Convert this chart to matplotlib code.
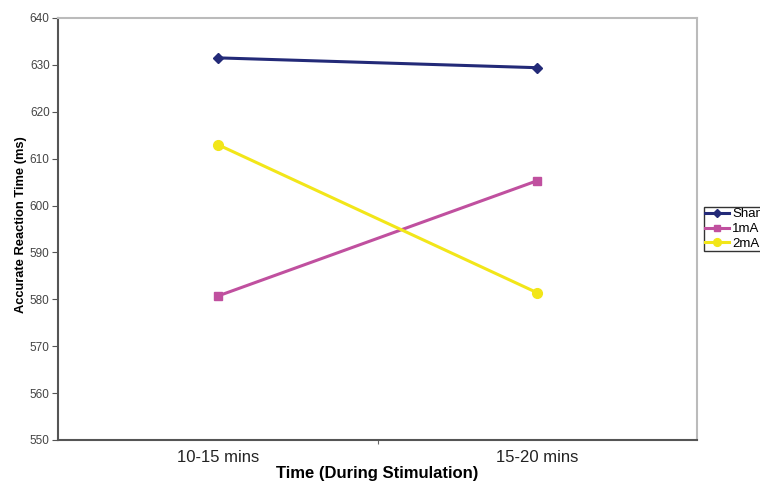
import matplotlib

matplotlib.use("Agg")
import matplotlib.pyplot as plt

plt.rcParams["font.family"] = ["Liberation Sans", "DejaVu Sans"]

periods = ["10-15 mins", "15-20 mins"]
sham = [631.5, 629.4]
one_ma = [580.7, 605.3]
two_ma = [613.0, 581.4]

series = [
    ("Sham", sham, "#232a78", "D", 5),
    ("1mA", one_ma, "#c0509f", "s", 6),
    ("2mA", two_ma, "#f2e619", "o", 7),
]

fig = plt.figure(figsize=(7.6, 4.82), dpi=100)
ax = fig.add_axes([58 / 760, 1 - 440 / 482, (697 - 58) / 760, (440 - 18) / 482])

x = list(range(len(periods)))
for name, vals, color, marker, ms in series:
    ax.plot(x, vals, color=color, marker=marker, markersize=ms, linewidth=2.2, label=name)

ax.set_xlim(-0.5, 1.5)
ax.set_ylim(550, 640)
ax.set_yticks(range(550, 641, 10))
ax.set_xticks([0.5])
ax.set_xticklabels([""])
ax.set_xticks(x, minor=True)
ax.set_xticklabels(periods, minor=True)
ax.tick_params(axis="x", which="minor", length=0, labelsize=12, pad=7, colors="#222222")
ax.tick_params(axis="x", which="major", length=3, direction="out", color="#666666")
ax.tick_params(axis="y", length=4, direction="out", labelsize=8.5, width=0.8, pad=2,
               colors="#555555", labelcolor="#444444")

for side in ["top", "right"]:
    ax.spines[side].set_color("#bbbbbb")
    ax.spines[side].set_linewidth(1.5)
for side in ["left", "bottom"]:
    ax.spines[side].set_color("#555555")
    ax.spines[side].set_linewidth(1.5)

ax.set_ylabel("Accurate Reaction Time (ms)", fontsize=9.3, fontweight="bold")
ax.yaxis.set_label_coords(-0.048, 0.51)
ax.set_xlabel("Time (During Stimulation)", fontsize=12, fontweight="bold", labelpad=1)

fig.legend(
    loc="upper left",
    bbox_to_anchor=(704 / 760, 1 - 207 / 482),
    fontsize=9.5,
    frameon=True,
    fancybox=False,
    edgecolor="black",
    handlelength=1.8,
    handletextpad=0.25,
    borderpad=0.08,
    labelspacing=0.2,
    borderaxespad=0,
    markerscale=0.8,
)

fig.savefig("out.png", dpi=100)
